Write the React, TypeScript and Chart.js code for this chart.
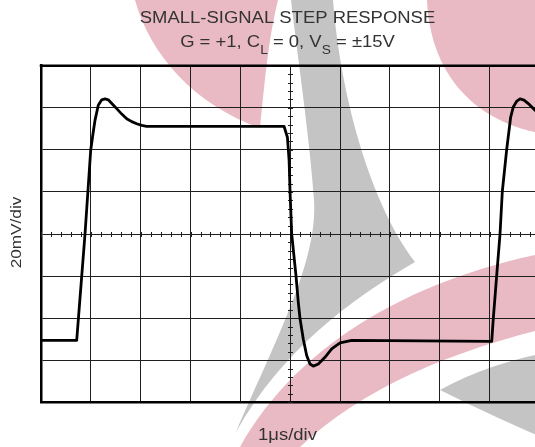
import React, { useEffect, useRef } from "react";
import { Chart, registerables } from "chart.js";

Chart.register(...registerables);

// time axis in µs (1 µs/div), voltage in mV (20 mV/div)
const timeUs = [
  0, 0.716, 0.883, 0.997, 1.04, 1.083, 1.149, 1.218, 1.284, 1.35, 1.43, 1.519, 1.62, 1.719, 1.82, 1.92, 2.02, 2.12,
  4.875, 4.943, 4.977, 4.997, 5.029, 5.115, 5.161, 5.196, 5.262, 5.33, 5.396, 5.462, 5.563, 5.697, 5.831, 5.998, 6.233,
  9.041, 9.073, 9.141, 9.208, 9.254, 9.342, 9.422, 9.474, 9.54, 9.609, 9.69, 9.775, 9.91, 10.0,
];
const outputMv = [
  -50.6, -50.6, 0, 39.8, 47.2, 54, 61.2, 63.8, 64.2, 63.8, 61.8, 59.6, 57, 54.8, 53.4, 52.4, 51.6, 51.2,
  51.2, 46, 35, 19.4, 0, -19.8, -32.4, -40.2, -50, -57.8, -61.8, -62.8, -61.8, -58.6, -54.6, -51.8, -50.6,
  -51, -40.2, -19.8, 0, 20.2, 40.2, 55.6, 60.4, 63, 64.2, 63.6, 62, 58.8, 57,
];

const timeMin = 0;
const timeMax = 10;
const timeStep = 1;
const mvMin = -80;
const mvMax = 80;
const mvStep = 20;
const minorPerDiv = 5;

const titleLine1 = "SMALL-SIGNAL STEP RESPONSE";
const titleLine2 = [
  { t: "G = +1, C", sub: false },
  { t: "L", sub: true },
  { t: " = 0, V", sub: false },
  { t: "S", sub: true },
  { t: " = \u00B115V", sub: false },
];
const xLabel = "1\u03BCs/div";
const yLabel = "20mV/div";

const FONT = '"Liberation Sans", Arial, sans-serif';
const TEXT_COLOR = "#333";
const PINK = "#e9bac4";
const GRAY = "#c4c4c4";

function drawWatermark(ctx: CanvasRenderingContext2D) {
  ctx.save();
  ctx.fillStyle = PINK;
  ctx.beginPath();
  ctx.moveTo(135, 0);
  ctx.bezierCurveTo(150, 55, 195, 105, 260, 128);
  ctx.bezierCurveTo(264, 90, 268, 40, 278, 0);
  ctx.closePath();
  ctx.fill();
  ctx.beginPath();
  ctx.moveTo(427, 0);
  ctx.bezierCurveTo(430, 70, 470, 120, 540, 133);
  ctx.lineTo(560, 134);
  ctx.lineTo(560, 0);
  ctx.closePath();
  ctx.fill();
  ctx.beginPath();
  ctx.moveTo(240, 447);
  ctx.bezierCurveTo(300, 340, 420, 275, 560, 250);
  ctx.lineTo(560, 325);
  ctx.bezierCurveTo(450, 350, 360, 390, 300, 447);
  ctx.closePath();
  ctx.fill();
  ctx.fillStyle = GRAY;
  ctx.beginPath();
  ctx.moveTo(291, 0);
  ctx.lineTo(333, 0);
  ctx.bezierCurveTo(340, 90, 368, 200, 415, 262);
  ctx.bezierCurveTo(350, 300, 282, 350, 236, 432);
  ctx.bezierCurveTo(278, 335, 318, 260, 314, 200);
  ctx.bezierCurveTo(310, 140, 298, 60, 291, 0);
  ctx.closePath();
  ctx.fill();
  ctx.beginPath();
  ctx.moveTo(440, 390);
  ctx.quadraticCurveTo(490, 362, 560, 350);
  ctx.lineTo(560, 445);
  ctx.quadraticCurveTo(500, 420, 440, 390);
  ctx.closePath();
  ctx.fill();
  ctx.restore();
}

function drawScaledText(
  ctx: CanvasRenderingContext2D,
  text: string,
  x: number,
  y: number,
  size: number,
  sx: number
) {
  ctx.save();
  ctx.font = `${size}px ${FONT}`;
  ctx.fillStyle = TEXT_COLOR;
  ctx.textAlign = "center";
  ctx.textBaseline = "alphabetic";
  ctx.translate(x, y);
  ctx.scale(sx, 1);
  ctx.fillText(text, 0, 0);
  ctx.restore();
}

function drawTexts(ctx: CanvasRenderingContext2D, cx: number) {
  const sx = 1.1;
  const main = 16.8;
  const sub = 12.5;
  drawScaledText(ctx, titleLine1, cx, 22.7, main, sx);

  ctx.save();
  ctx.fillStyle = TEXT_COLOR;
  ctx.textBaseline = "alphabetic";
  ctx.textAlign = "left";
  let total = 0;
  const widths = titleLine2.map((p) => {
    ctx.font = `${p.sub ? sub : main}px ${FONT}`;
    const w = ctx.measureText(p.t).width * sx;
    total += w;
    return w;
  });
  let x = cx - total / 2;
  titleLine2.forEach((p, i) => {
    ctx.save();
    ctx.font = `${p.sub ? sub : main}px ${FONT}`;
    ctx.translate(x, p.sub ? 53.5 : 46.7);
    ctx.scale(sx, 1);
    ctx.fillText(p.t, 0, 0);
    ctx.restore();
    x += widths[i];
  });
  ctx.restore();

  drawScaledText(ctx, xLabel, cx, 440, main, sx);

  ctx.save();
  ctx.font = `15.5px ${FONT}`;
  ctx.fillStyle = TEXT_COLOR;
  ctx.textAlign = "center";
  ctx.textBaseline = "alphabetic";
  ctx.translate(21, 232.5);
  ctx.rotate(-Math.PI / 2);
  ctx.scale(1.11, 1);
  ctx.fillText(yLabel, 0, 0);
  ctx.restore();
}

const decorPlugin = {
  id: "scopeDecor",
  beforeDraw(chart: any) {
    const ctx = chart.ctx as CanvasRenderingContext2D;
    ctx.save();
    ctx.fillStyle = "#ffffff";
    ctx.fillRect(0, 0, chart.width, chart.height);
    ctx.restore();
    drawWatermark(ctx);
    drawTexts(ctx, 287.5);
  },
  beforeDatasetsDraw(chart: any) {
    const ctx = chart.ctx as CanvasRenderingContext2D;
    const xs = chart.scales.x;
    const ys = chart.scales.y;
    const y0 = Math.round(ys.getPixelForValue(0)) + 0.5;
    const x0 = Math.round(xs.getPixelForValue((timeMin + timeMax) / 2)) + 0.5;
    ctx.save();
    ctx.strokeStyle = "#1f1f1f";
    ctx.lineWidth = 1;
    ctx.beginPath();
    const nx = (timeMax - timeMin) * minorPerDiv;
    for (let i = 0; i <= nx; i++) {
      const px = Math.round(xs.getPixelForValue(timeMin + i / minorPerDiv)) + 0.5;
      ctx.moveTo(px, y0 - 2.5);
      ctx.lineTo(px, y0 + 2.5);
    }
    const ny = ((mvMax - mvMin) / mvStep) * minorPerDiv;
    for (let i = 0; i <= ny; i++) {
      const py = Math.round(ys.getPixelForValue(mvMin + (i * mvStep) / minorPerDiv)) + 0.5;
      ctx.moveTo(x0 - 2.5, py);
      ctx.lineTo(x0 + 2.5, py);
    }
    ctx.stroke();
    ctx.restore();
  },
  afterDraw(chart: any) {
    const ctx = chart.ctx as CanvasRenderingContext2D;
    const a = chart.chartArea;
    ctx.save();
    ctx.strokeStyle = "#000";
    ctx.lineWidth = 2.5;
    ctx.beginPath();
    ctx.moveTo(a.left - 1.25, a.top);
    ctx.lineTo(a.right + 1.25, a.top);
    ctx.moveTo(a.right, a.top);
    ctx.lineTo(a.right, a.bottom);
    ctx.stroke();
    ctx.restore();
  },
};

export default function App() {
  const ref = useRef<HTMLCanvasElement | null>(null);

  useEffect(() => {
    if (!ref.current) return;
    const points = timeUs.map((t, i) => ({ x: t, y: outputMv[i] }));
    const gridOpts = { color: "#1f1f1f", lineWidth: 1, drawTicks: false };
    const chart = new Chart(ref.current, {
      type: "line",
      data: {
        datasets: [
          {
            data: points,
            borderColor: "#000",
            borderWidth: 2.8,
            pointRadius: 0,
            tension: 0,
            borderJoinStyle: "round",
            borderCapStyle: "round",
            fill: false,
          },
        ],
      },
      options: {
        animation: false,
        responsive: false,
        events: [],
        layout: { padding: { left: 41, top: 65.7, right: 20.5, bottom: 44.7 } },
        plugins: {
          legend: { display: false },
          tooltip: { enabled: false },
          title: { display: false },
        },
        scales: {
          x: {
            type: "linear",
            min: timeMin,
            max: timeMax,
            afterFit: (s: any) => {
              s.height = 0;
            },
            ticks: { display: false, stepSize: timeStep },
            grid: gridOpts,
            border: { display: true, color: "#000", width: 2.5 },
          },
          y: {
            type: "linear",
            min: mvMin,
            max: mvMax,
            afterFit: (s: any) => {
              s.width = 0;
            },
            ticks: { display: false, stepSize: mvStep },
            grid: gridOpts,
            border: { display: true, color: "#000", width: 2.5 },
          },
        },
      } as any,
      plugins: [decorPlugin],
    });
    return () => chart.destroy();
  }, []);

  return (
    <div
      style={{
        position: "fixed",
        left: 0,
        top: 0,
        width: 535,
        height: 447,
        overflow: "hidden",
        background: "#fff",
      }}
    >
      <canvas ref={ref} width={560} height={447} style={{ display: "block" }} />
    </div>
  );
}
